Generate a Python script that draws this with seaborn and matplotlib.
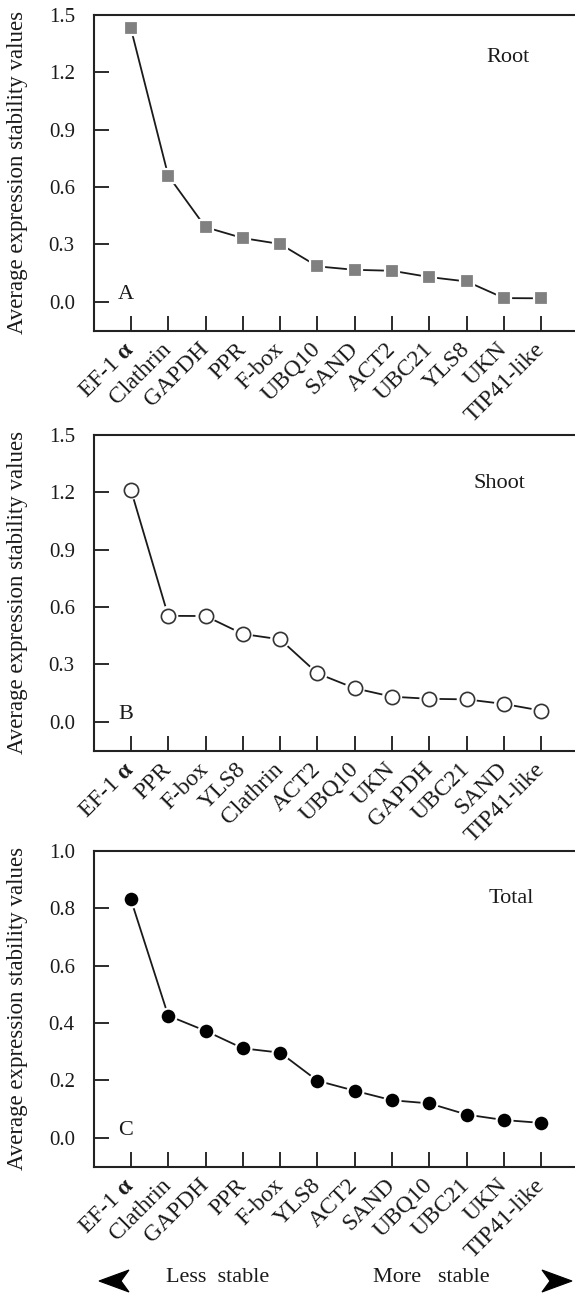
import numpy as np
import pandas as pd
import seaborn as sns
import matplotlib.pyplot as plt
from matplotlib.patches import Polygon

# gene order and average expression stability (M) values per tissue
root_genes = ["EF-1 α", "Clathrin", "GAPDH", "PPR", "F-box", "UBQ10", "SAND",
              "ACT2", "UBC21", "YLS8", "UKN", "TIP41-like"]
root_vals = [1.43, 0.66, 0.39, 0.333, 0.302, 0.185, 0.167, 0.162, 0.129, 0.106, 0.019, 0.018]

shoot_genes = ["EF-1 α", "PPR", "F-box", "YLS8", "Clathrin", "ACT2", "UBQ10", "UKN",
               "GAPDH", "UBC21", "SAND", "TIP41-like"]
shoot_vals = [1.214, 0.554, 0.553, 0.459, 0.431, 0.253, 0.175, 0.131, 0.12, 0.117, 0.093, 0.058]

total_genes = ["EF-1 α", "Clathrin", "GAPDH", "PPR", "F-box", "YLS8", "ACT2", "SAND",
               "UBQ10", "UBC21", "UKN", "TIP41-like"]
total_vals = [0.831, 0.426, 0.373, 0.312, 0.297, 0.199, 0.164, 0.131, 0.12, 0.081, 0.062, 0.052]

sns.set_theme(style="ticks")
plt.rcParams['font.family'] = ['Liberation Serif', 'DejaVu Serif']
plt.rcParams['mathtext.fontset'] = 'custom'
plt.rcParams['mathtext.rm'] = 'Liberation Serif'
plt.rcParams['mathtext.bf'] = 'Liberation Serif:bold'

W, H = 575, 1293
fig = plt.figure(figsize=(W / 100, H / 100), dpi=100)

ink = "#1a1a1a"
ax_left = 94.3 / W
ax_w = 1.0 - ax_left
ax_h = 315.8 / H

panels = [
    # genes, values, top px, ylim, yticks, marker style, halo, letter, tissue, tissue pos
    (root_genes, root_vals, 15, (-0.152, 1.5), [0.0, 0.3, 0.6, 0.9, 1.2, 1.5],
     dict(marker="s", s=115, color="#808080", edgecolor="white", linewidth=1.6), None,
     "A", "Root", (0.86, 0.867)),
    (shoot_genes, shoot_vals, 435, (-0.152, 1.5), [0.0, 0.3, 0.6, 0.9, 1.2, 1.5],
     dict(marker="o", s=105, color="white", edgecolor="#333333", linewidth=1.2),
     dict(marker="o", s=210, color="white", edgecolor="none", linewidth=0),
     "B", "Shoot", (0.842, 0.845)),
    (total_genes, total_vals, 851, (-0.101, 1.0), [0.0, 0.2, 0.4, 0.6, 0.8, 1.0],
     dict(marker="o", s=130, color="black", edgecolor="white", linewidth=1.6), None,
     "C", "Total", (0.867, 0.85)),
]

for genes, vals, top_px, ylim, yticks, mstyle, halo, letter, tissue, tpos in panels:
    bottom = 1.0 - (top_px + 315.8) / H
    ax = fig.add_axes([ax_left, bottom, ax_w, ax_h])
    df = pd.DataFrame({"gene": genes, "M": vals})

    sns.lineplot(data=df, x="gene", y="M", sort=False, color=ink, linewidth=1.3, ax=ax, zorder=2)
    if halo is not None:
        sns.scatterplot(data=df, x="gene", y="M", ax=ax, zorder=3, legend=False, **halo)
    sns.scatterplot(data=df, x="gene", y="M", ax=ax, zorder=4, legend=False, **mstyle)

    ax.set_xlim(-0.98, 11.9)
    ax.set_ylim(*ylim)
    ax.set_yticks(yticks)
    ax.set_yticklabels([f"{t:.1f}" for t in yticks])
    ax.set_xticks(range(len(genes)))
    ax.set_xticklabels([g.replace("α", r"$\mathbf{α}$") for g in genes],
                       rotation=45, ha="right", va="center", rotation_mode="anchor")

    ax.tick_params(axis="y", direction="in", length=11, width=1.3, pad=14,
                   labelsize=15, colors=ink)
    ax.tick_params(axis="x", direction="in", length=11, width=1.3, pad=11,
                   labelsize=17, colors=ink)
    for side in ["left", "top", "bottom"]:
        ax.spines[side].set_linewidth(1.5)
        ax.spines[side].set_color("#222222")
    ax.spines["right"].set_visible(False)

    ax.set_xlabel("")
    ax.set_ylabel("Average expression stability values", fontsize=16.5, color=ink)
    ax.yaxis.set_label_coords(-0.138, 0.5)

    ax.text(0.066, 0.114, letter, transform=ax.transAxes, fontsize=16,
            ha="center", va="center", color=ink)
    ax.text(tpos[0], tpos[1], tissue, transform=ax.transAxes, fontsize=16,
            ha="center", va="center", color=ink)

# stability direction at the bottom
def px(x, y):
    return (x / W, 1.0 - y / H)

left_arrow = [px(99, 1281), px(129, 1270), px(121, 1281), px(129, 1292)]
right_arrow = [px(572, 1281), px(542, 1270), px(550, 1281), px(542, 1292)]
for pts in (left_arrow, right_arrow):
    fig.patches.append(Polygon(pts, closed=True, facecolor="black", edgecolor="black",
                               linewidth=0.8, transform=fig.transFigure, figure=fig))

fig.text(218 / W, 1 - 1278 / H, "Less  stable", fontsize=16, ha="center", va="center", color=ink)
fig.text(431 / W, 1 - 1278 / H, "More   stable", fontsize=16, ha="center", va="center", color=ink)

fig.savefig("out.png", dpi=100)
